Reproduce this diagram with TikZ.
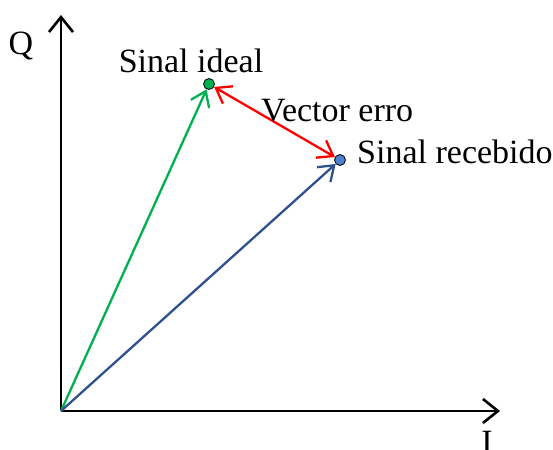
\documentclass[tikz,border=0pt]{standalone}
\usepackage{fontspec}
\setmainfont{Liberation Serif}
\usetikzlibrary{arrows.meta}
\definecolor{vgreen}{RGB}{0,176,80}
\definecolor{vblue}{RGB}{47,82,143}
\definecolor{dotblue}{RGB}{79,129,209}
\begin{document}
\begin{tikzpicture}[x=1pt,y=-1pt,
  axis/.style={line width=2.6pt,-{Straight Barb[length=15pt,width=24pt,line width=2.6pt]}},
  vec/.style={line width=2.3pt,-{Straight Barb[length=14pt,width=20pt,line width=2.3pt]}},
  dvec/.style={line width=2.3pt,{Straight Barb[length=14pt,width=20pt,line width=2.3pt]}-{Straight Barb[length=14pt,width=20pt,line width=2.3pt]}},
  dot/.style={circle,draw=black,line width=0.8pt,minimum size=11pt,inner sep=0pt},
  lbl/.style={font=\fontsize{34}{40}\selectfont,inner sep=0pt}]
\useasboundingbox (0,0) rectangle (553,449);
\coordinate (O) at (61,411);
\coordinate (Qend) at (61,15);
\coordinate (Iend) at (500,411);
\node[dot,fill=vgreen] (ideal) at (209,84) {};
\node[dot,fill=dotblue] (rec) at (340,160) {};
\draw[axis] (O) -- (Qend);
\draw[axis] (O) -- (Iend);
\draw[vec,vgreen] (O) -- (ideal);
\draw[vec,vblue] (O) -- (rec);
\draw[dvec,red] (ideal) -- (rec);
\node[lbl,anchor=base] (q) at (21,55) {Q};
\node[lbl,anchor=base] (i) at (487,453) {I};
\node[lbl,anchor=base] (tideal) at (191,73) {Sinal ideal};
\node[lbl,anchor=base west] (terro) at (261,122) {Vector erro};
\node[lbl,anchor=base west] (trec) at (357,163) {Sinal recebido};
\end{tikzpicture}
\end{document}
